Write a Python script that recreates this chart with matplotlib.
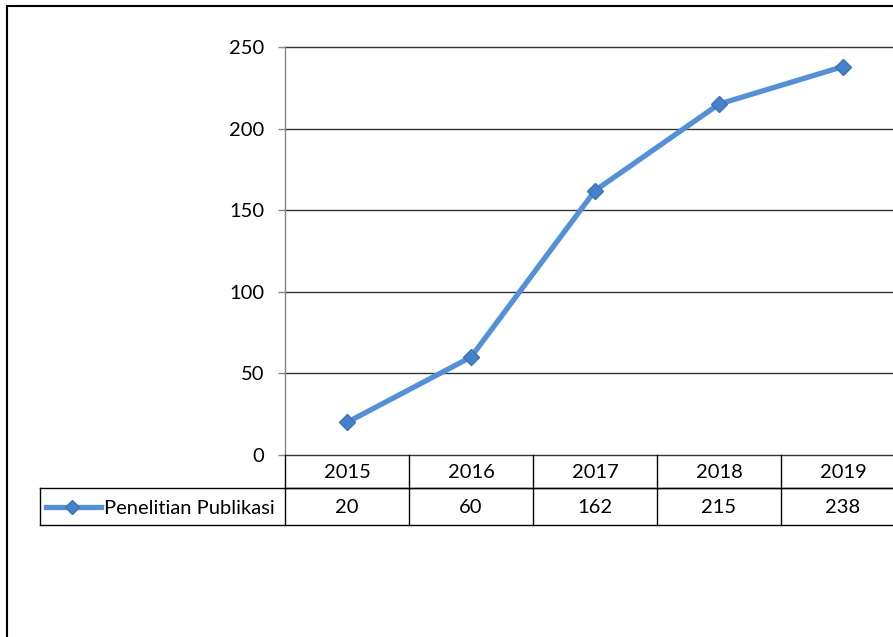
import matplotlib
matplotlib.use("Agg")
import matplotlib.pyplot as plt
from matplotlib.lines import Line2D
import matplotlib.transforms as mtransforms

years = ["2015", "2016", "2017", "2018", "2019"]
values = [20, 60, 162, 215, 238]
series_name = "Penelitian Publikasi"
yticks = [0, 50, 100, 150, 200, 250]

W, H = 893, 637
FS = 14.5
plt.rcParams['font.family'] = ['Lato', 'DejaVu Sans']
fig = plt.figure(figsize=(W / 100, H / 100), dpi=100)

def fx(px):
    return px / W

def fy(py):
    return 1 - py / H

# plot area: x 285 -> 905 (5 categories, 124 px each), y 47 -> 455
ax = fig.add_axes([fx(285), fy(455), fx(905) - fx(285), (455 - 47) / H])
ax.set_xlim(-0.5, len(years) - 0.5)
ax.set_ylim(0, 250)
ax.set_facecolor('none')
for s in ['top', 'right', 'bottom']:
    ax.spines[s].set_visible(False)
ax.spines['left'].set_color('#868686')
ax.spines['left'].set_linewidth(1.0)
ax.set_yticks(yticks)
ax.set_yticklabels([str(t) for t in yticks], fontsize=FS)
ax.tick_params(axis='y', length=5, width=1, color='#868686', pad=10)
ax.set_xticks([])
for t in yticks:
    ax.axhline(t, color='#333333', lw=1.0, zorder=1, clip_on=False)

color = '#5290dc'
mcolor = '#4681cc'
x = list(range(len(years)))
ax.plot(x, values, color=color, lw=3.8, marker='D', markersize=8.5,
        markerfacecolor=mcolor, markeredgecolor='#3a72bb', zorder=3, clip_on=False)

# data table
trans = mtransforms.blended_transform_factory(ax.transData, fig.transFigure)
row1_top, row1_bot, row2_bot = 455, 488, 525
lc = 'black'
fig.add_artist(Line2D([fx(285), 1], [fy(row1_bot)] * 2, color=lc, lw=1.0))
fig.add_artist(Line2D([fx(40), 1], [fy(row1_bot)] * 2, color=lc, lw=1.0))
fig.add_artist(Line2D([fx(40), 1], [fy(row2_bot)] * 2, color=lc, lw=1.0))
fig.add_artist(Line2D([fx(40), fx(40)], [fy(row1_bot), fy(row2_bot)], color=lc, lw=1.0))
fig.add_artist(Line2D([fx(285), fx(285)], [fy(row1_top), fy(row2_bot)], color=lc, lw=1.0))
for i in range(1, len(years) + 1):
    ax.add_artist(Line2D([i - 0.5, i - 0.5], [fy(row1_top), fy(row2_bot)], color=lc,
                         lw=1.0, transform=trans, clip_on=False))
for i, (yr, v) in enumerate(zip(years, values)):
    ax.text(i, fy((row1_top + row1_bot) / 2 + 1), yr, transform=trans, ha='center',
            va='center', fontsize=FS, clip_on=False)
    ax.text(i, fy((row1_bot + row2_bot) / 2 + 1), str(v), transform=trans, ha='center',
            va='center', fontsize=FS, clip_on=False)

# legend key in table
ky = fy(507)
fig.add_artist(Line2D([fx(46), fx(101)], [ky, ky], color=color, lw=3.8))
fig.add_artist(Line2D([fx(72)], [ky], marker='D', markersize=7, color=mcolor,
                      markeredgecolor='#3a72bb'))
fig.text(fx(104), fy(508), series_name, ha='left', va='center', fontsize=FS)

# outer chart border
fig.add_artist(Line2D([fx(7), fx(7)], [fy(6), 0], color='black', lw=1.5))
fig.add_artist(Line2D([fx(7), 1], [fy(6), fy(6)], color='black', lw=1.5))

fig.savefig('out.png', dpi=100)
